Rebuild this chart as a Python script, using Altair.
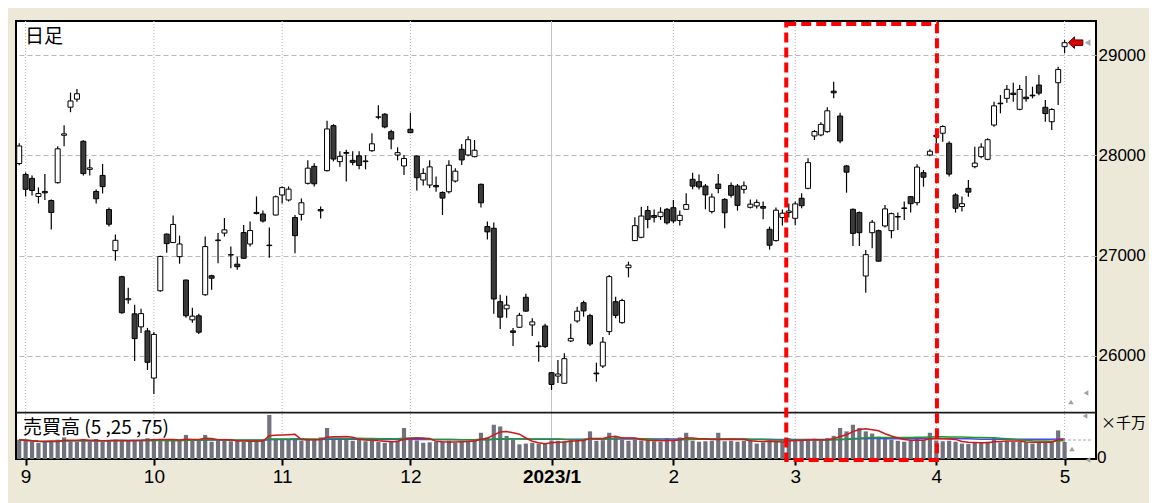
import altair as alt
import pandas as pd

# ---------------- data ----------------
month_days = {
    "2022-08": [31],
    "2022-09": [1, 2, 5, 6, 7, 8, 9, 12, 13, 14, 15, 16, 20, 21, 22, 26, 27, 28, 29, 30],
    "2022-10": [3, 4, 5, 6, 7, 11, 12, 13, 14, 17, 18, 19, 20, 21, 24, 25, 26, 27, 28, 31],
    "2022-11": [1, 2, 4, 7, 8, 9, 10, 11, 14, 15, 16, 17, 18, 21, 22, 24, 25, 28, 29, 30],
    "2022-12": [1, 2, 5, 6, 7, 8, 9, 12, 13, 14, 15, 16, 19, 20, 21, 22, 23, 26, 27, 28, 29, 30],
    "2023-01": [4, 5, 6, 10, 11, 12, 13, 16, 17, 18, 19, 20, 23, 24, 25, 26, 27, 30, 31],
    "2023-02": [1, 2, 3, 6, 7, 8, 9, 10, 13, 14, 15, 16, 17, 20, 21, 22, 24, 27, 28],
    "2023-03": [1, 2, 3, 6, 7, 8, 9, 10, 13, 14, 15, 16, 17, 20, 22, 23, 24, 27, 28, 29, 30, 31],
    "2023-04": [3, 4, 5, 6, 7, 10, 11, 12, 13, 14, 17, 18, 19, 20, 21, 24, 25, 26, 27, 28],
    "2023-05": [1],
}
dates = [f"{m}-{d:02d}" for m, days in month_days.items() for d in days]

opens = [
    27918,
    27810, 27770, 27590, 27640, 27550, 27727, 28200, 28480, 28560, 28140, 27860, 27640, 27800, 27460, 27050, 26790, 26560, 26420, 26290, 26250,
    25780, 26650, 27215, 27130, 26990, 26757, 26360, 26400, 26610, 26800, 27150, 27225, 27010, 26915, 27230, 27116, 27420, 27415, 27100, 27405,
    27605, 27555, 27380, 27412, 27721, 27890, 27460, 27847, 28296, 27937, 28020, 27950, 27995, 27937, 28046, 28380, 28410, 28236, 28003, 27894,
    28260, 27993, 27754, 27704, 27700, 27630, 27637, 27744, 28060, 28003, 27987, 27711, 27290, 27273, 26541, 26470, 26250, 26286, 26585, 26309, 26100, 26299,
    25833, 25800, 25728, 26150, 26349, 26531, 26402, 25830, 25900, 26243, 26541, 26332, 26880, 27150, 27183, 27449, 27400, 27389, 27462,
    27478, 27350, 27462, 27761, 27737, 27694, 27439, 27714, 27561, 27700, 27694, 27661, 27482, 27495, 27490, 27263, 27150, 27380, 27430,
    27372, 27572, 27671, 28193, 28203, 28236, 28640, 28392, 27894, 27462, 27429, 26797, 27229, 27249, 27296, 27249, 27390, 27470, 27588, 27528, 27827, 28003,
    28200, 28220, 28120, 27605, 27490, 27671, 27887, 27987, 27960, 28302, 28520, 28568, 28620, 28459, 28580, 28600, 28701, 28479, 28335, 28724,
    29083,
]
highs = [
    28120,
    27830, 27800, 27680, 27815, 27560, 28090, 28300, 28625, 28660, 28150, 27960, 27660, 27915, 27480, 27210, 26800, 26680, 26510, 26470, 26280,
    26240, 27000, 27220, 27400, 27200, 26760, 26480, 26420, 27190, 26810, 27225, 27375, 27090, 26990, 27305, 27340, 27590, 27450, 27280, 27600,
    27690, 27690, 27405, 27570, 27950, 27920, 27490, 28345, 28310, 28040, 28055, 28040, 28040, 28000, 28220, 28500, 28420, 28255, 28080, 28003,
    28425, 28000, 27870, 27950, 27790, 27640, 27950, 27870, 28113, 28190, 28153, 27720, 27340, 27330, 26610, 26600, 26280, 26430, 26620, 26376, 26143, 26320,
    25840, 25960, 26027, 26320, 26490, 26551, 26420, 25933, 26190, 26807, 26591, 26570, 26940, 27382, 27488, 27495, 27460, 27482, 27475,
    27555, 27450, 27622, 27827, 27810, 27714, 27620, 27814, 27572, 27730, 27714, 27740, 27560, 27560, 27540, 27290, 27480, 27460, 27520,
    27540, 27622, 27970, 28253, 28330, 28479, 28734, 28425, 27904, 27470, 27440, 27056, 27356, 27260, 27505, 27429, 27430, 27540, 27595, 27910, 27854, 28060,
    28253, 28300, 28140, 27622, 27590, 27754, 28086, 28120, 28170, 28535, 28601, 28701, 28724, 28700, 28791, 28684, 28801, 28551, 28469, 28884,
    29150,
]
lows = [
    27900,
    27590, 27600, 27520, 27555, 27260, 27720, 28090, 28430, 28535, 27800, 27800, 27520, 27620, 27290, 26950, 26420, 26520, 25950, 26230, 25860,
    25621, 26640, 27030, 27125, 26920, 26380, 26330, 26220, 26600, 26660, 26925, 27190, 26875, 26860, 26970, 27090, 27410, 27330, 26980, 27400,
    27520, 27540, 27025, 27350, 27710, 27690, 27370, 27840, 27940, 27887, 27740, 27900, 27860, 27860, 28036, 28360, 28270, 28060, 27950, 27805,
    28220, 27650, 27700, 27675, 27637, 27405, 27620, 27730, 27904, 27990, 27980, 27480, 27160, 26420, 26270, 26380, 26100, 26280, 26440, 26199, 25943, 26080,
    25661, 25730, 25720, 26140, 26330, 26392, 26100, 25744, 25880, 26209, 26376, 26320, 26784, 27146, 27173, 27273, 27330, 27356, 27310,
    27322, 27300, 27455, 27661, 27660, 27462, 27420, 27622, 27273, 27580, 27449, 27620, 27470, 27470, 27362, 27060, 27140, 27300, 27380,
    27306, 27472, 27661, 28153, 28190, 28226, 28568, 28120, 27628, 27096, 27096, 26631, 27073, 26940, 27280, 27173, 27256, 27356, 27429, 27500, 27687, 27990,
    28120, 28136, 27790, 27429, 27440, 27588, 27871, 27970, 27950, 28285, 28419, 28525, 28535, 28450, 28535, 28568, 28600, 28335, 28252, 28502,
    29017,
]
closes = [
    28093,
    27661, 27650, 27619, 27626, 27430, 28065, 28214, 28542, 28614, 27818, 27875, 27567, 27688, 27313, 27153, 26431, 26571, 26173, 26422, 25937,
    26215, 26992, 27120, 27311, 27116, 26401, 26397, 26237, 27090, 26775, 27156, 27257, 27006, 26890, 26974, 27250, 27431, 27345, 27105, 27587,
    27678, 27663, 27199, 27527, 27872, 27716, 27446, 28263, 27963, 27990, 28028, 27930, 27899, 27944, 28115, 28383, 28283, 28162, 28027, 27968,
    28226, 27777, 27820, 27885, 27686, 27574, 27901, 27842, 27954, 28156, 28051, 27527, 27237, 26568, 26387, 26507, 26235, 26405, 26447, 26340, 26093, 26094,
    25716, 25820, 25973, 26175, 26446, 26449, 26119, 25822, 26138, 26791, 26405, 26553, 26906, 27299, 27395, 27362, 27382, 27433, 27327,
    27346, 27402, 27509, 27693, 27685, 27606, 27584, 27670, 27427, 27602, 27501, 27696, 27513, 27531, 27473, 27104, 27453, 27423, 27445,
    27516, 27498, 27927, 28237, 28309, 28444, 28623, 28143, 27832, 27222, 27229, 27010, 27333, 26945, 27466, 27419, 27385, 27476, 27518, 27883, 27782, 28041,
    28188, 28287, 27813, 27472, 27518, 27633, 27923, 28082, 28156, 28493, 28514, 28658, 28606, 28657, 28564, 28593, 28620, 28416, 28457, 28856,
    29123,
]
# 売買高 (x 千万株)
volumes = [
    125,
    118, 112, 105, 110, 118, 125, 140, 115, 112, 128, 115, 130, 110, 118, 125, 120, 118, 122, 120, 135,
    130, 125, 120, 118, 122, 156, 118, 120, 156, 112, 120, 118, 115, 118, 112, 115, 118, 120, 285, 130,
    128, 125, 130, 118, 125, 122, 140, 201, 135, 125, 128, 118, 130, 115, 118, 110, 105, 112, 120, 201,
    130, 120, 105, 108, 110, 112, 118, 105, 115, 118, 130, 170, 140, 222, 211, 150, 125, 95, 100, 105, 100, 98,
    120, 118, 115, 122, 120, 125, 179, 118, 122, 170, 145, 125, 118, 125, 120, 118, 115, 112, 135,
    120, 140, 170, 118, 112, 115, 118, 170, 115, 118, 112, 118, 125, 100, 108, 120, 112, 110, 135,
    125, 118, 130, 122, 120, 135, 150, 201, 179, 222, 201, 179, 165, 145, 130, 125, 118, 112, 120, 130, 125, 170,
    120, 115, 118, 112, 100, 98, 105, 110, 112, 135, 108, 115, 112, 110, 108, 100, 110, 112, 115, 185,
    110,
]
month_labels = ["9", "10", "11", "12", "2023/1", "2", "3", "4", "5"]
price_ticks = [26000, 27000, 28000, 29000]
ma_windows = [5, 25, 75]
ma_colors = ["#d01818", "#1f9a2a", "#4a4ae6"]

# annotation: highlighted range (trading-day index units)
highlight_start = [119.6]
highlight_end = [143.1]

# ---------------- tables ----------------
df = pd.DataFrame({"date": dates, "open": opens, "high": highs, "low": lows,
                   "close": closes, "volume": volumes})
df["idx"] = range(len(df))
months = pd.to_datetime(df["date"]).dt.to_period("M")
first_idx = df.groupby(months)["idx"].min().tolist()[1:]
ticks_df = pd.DataFrame({"idx": first_idx, "label": month_labels})
jan_idx = first_idx[month_labels.index("2023/1")]
last_idx = len(df) - 1

# ---------------- scales & axes ----------------
xscale = alt.Scale(domain=[-0.5, 167.9], nice=False, zero=False, padding=0)
label_expr = " : ".join(f"datum.value == {i} ? '{l}'" for i, l in zip(first_idx, month_labels)) + " : ''"
xaxis = alt.Axis(
    values=first_idx, labelExpr=label_expr, title=None, grid=False, domain=False,
    tickColor="black", tickWidth=2, tickSize=6, labelColor="black", labelPadding=2,
    labelFontSize=19,
    labelFont={"condition": {"test": f"datum.value == {jan_idx}", "value": "Liberation Sans"},
               "value": "Liberation Sans Narrow, Liberation Sans"},
    labelFontWeight={"condition": {"test": f"datum.value == {jan_idx}", "value": "bold"},
                     "value": "normal"},
)
X = alt.X("idx:Q", scale=xscale, axis=xaxis)

price_domain = [24973, 29339]
price_panel_min = 25435
yscale_p = alt.Scale(domain=price_domain, nice=False, zero=False, padding=0)
price_axis = alt.Axis(
    orient="right", values=price_ticks, format="d", title=None, ticks=False, domain=False,
    grid=True, gridDash=[5, 3], gridColor="#b8b8b8", gridWidth=1,
    labelFont="Liberation Sans", labelFontSize=17, labelColor="black", labelPadding=2,
)
yscale_v = alt.Scale(domain=[0, 2838], nice=False, zero=True, padding=0)

base = alt.Chart(df)

# ---------------- layers ----------------
vgrid = alt.Chart(ticks_df).mark_rule(strokeWidth=1).encode(
    x=X,
    color=alt.condition(alt.datum.label == "2023/1", alt.value("#c4c4c4"), alt.value("#b4b4b4")),
    strokeDash=alt.condition(alt.datum.label == "2023/1", alt.value([1, 0]), alt.value([1, 2])),
)

volbars = base.mark_bar(size=4.2, color="#72727f").encode(
    x=X, y=alt.Y("volume:Q", scale=yscale_v, axis=None)
)
ma_layers = []
for w, c in zip(ma_windows, ma_colors):
    ma_layers.append(
        base.transform_window(ma="mean(volume)", frame=[-(w - 1), 0], sort=[alt.SortField("idx")])
        .mark_line(color=c, strokeWidth=1.5)
        .encode(x=X, y=alt.Y("ma:Q", scale=yscale_v, axis=None))
    )
vol_group = alt.layer(volbars, *ma_layers[::-1])

wicks = base.mark_rule(color="black", strokeWidth=1.2).encode(
    x=X, y=alt.Y("low:Q", scale=yscale_p, axis=price_axis), y2="high"
)
bodies = base.mark_bar(size=5, stroke="black", strokeWidth=1).encode(
    x=X, y=alt.Y("open:Q", scale=yscale_p, axis=price_axis), y2="close",
    fill=alt.condition("datum.close >= datum.open", alt.value("white"), alt.value("#3a3a3a")),
)
divider = alt.Chart(pd.DataFrame({"v": [price_panel_min]})).mark_rule(
    color="#1a1a1a", strokeWidth=1.6
).encode(y=alt.Y("v:Q", scale=yscale_p, axis=price_axis))

arrow_path = "M-1,0 L-0.15,-0.8 L-0.15,-0.38 L1,-0.38 L1,0.38 L-0.15,0.38 L-0.15,0.8 Z"
last = base.transform_filter(alt.datum.idx == last_idx)
arrow = last.mark_point(shape=arrow_path, filled=True, fill="#e00000", stroke="#5a0000",
                        strokeWidth=1, size=210, opacity=1, xOffset=11).encode(
    x=X, y=alt.Y("close:Q", scale=yscale_p, axis=price_axis)
)
arrow_tip = last.mark_point(shape="triangle-left", filled=True, color="#a8a8a8",
                            size=45, opacity=1, xOffset=23).encode(
    x=X, y=alt.Y("close:Q", scale=yscale_p, axis=price_axis)
)
price_group = alt.layer(wicks, bodies, divider, arrow, arrow_tip)

hl = alt.Chart(pd.DataFrame({"start": highlight_start, "end": highlight_end})).mark_rect(
    fillOpacity=0, stroke="#ff0000", strokeWidth=4, strokeDash=[10, 5]
).encode(
    x=alt.X("start:Q", scale=xscale, axis=xaxis), x2="end",
    y=alt.value(3), y2=alt.value(439),
)

def label(txt, x, y, size, font="Noto Sans CJK JP", align="left"):
    return alt.Chart(pd.DataFrame({"t": [txt]})).mark_text(
        align=align, baseline="middle", font=font, fontSize=size, color="black"
    ).encode(text="t:N", x=alt.value(x), y=alt.value(y))

t_daily = label("日足", 9, 16, 19)
t_vol = label("売買高 (5 ,25 ,75)", 7, 407, 19)
t_unit = label("×千万", 1085, 402, 15)
t_zero = label("0", 1081, 437, 17, font="Liberation Sans")

def widget(shape, x, y, size=30):
    return alt.Chart(pd.DataFrame({"k": [0]})).mark_point(
        shape=shape, filled=True, color="#a0a0a0", size=size, opacity=1
    ).encode(x=alt.value(x), y=alt.value(y))

widgets = [
    widget("triangle-up", 1055, 381),
    widget("triangle-left", 1070, 372),
    widget("triangle-left", 1069, 395),
    widget("triangle-up", 1056, 428),
    widget("triangle-left", 1072, 439),
]
vol_marker = alt.Chart(pd.DataFrame({"k": [0]})).mark_rule(
    color="#a8a8a8", strokeDash=[3, 2], strokeWidth=1
).encode(x=alt.value(1047), x2=alt.value(1077), y=alt.value(419))

chart = alt.layer(
    vgrid, vol_group, price_group, hl, t_daily, t_vol, t_unit, t_zero, *widgets, vol_marker
).resolve_scale(y="independent").properties(
    width=1080, height=438,
    autosize=alt.AutoSizeParams(type="none"),
    padding={"left": 8, "top": 13, "right": 53, "bottom": 44},
    background="#ECE9D8",
).configure_view(stroke="black", strokeWidth=2, fill="white")

chart.save("out.html", embed_options={"renderer": "svg", "actions": False})
